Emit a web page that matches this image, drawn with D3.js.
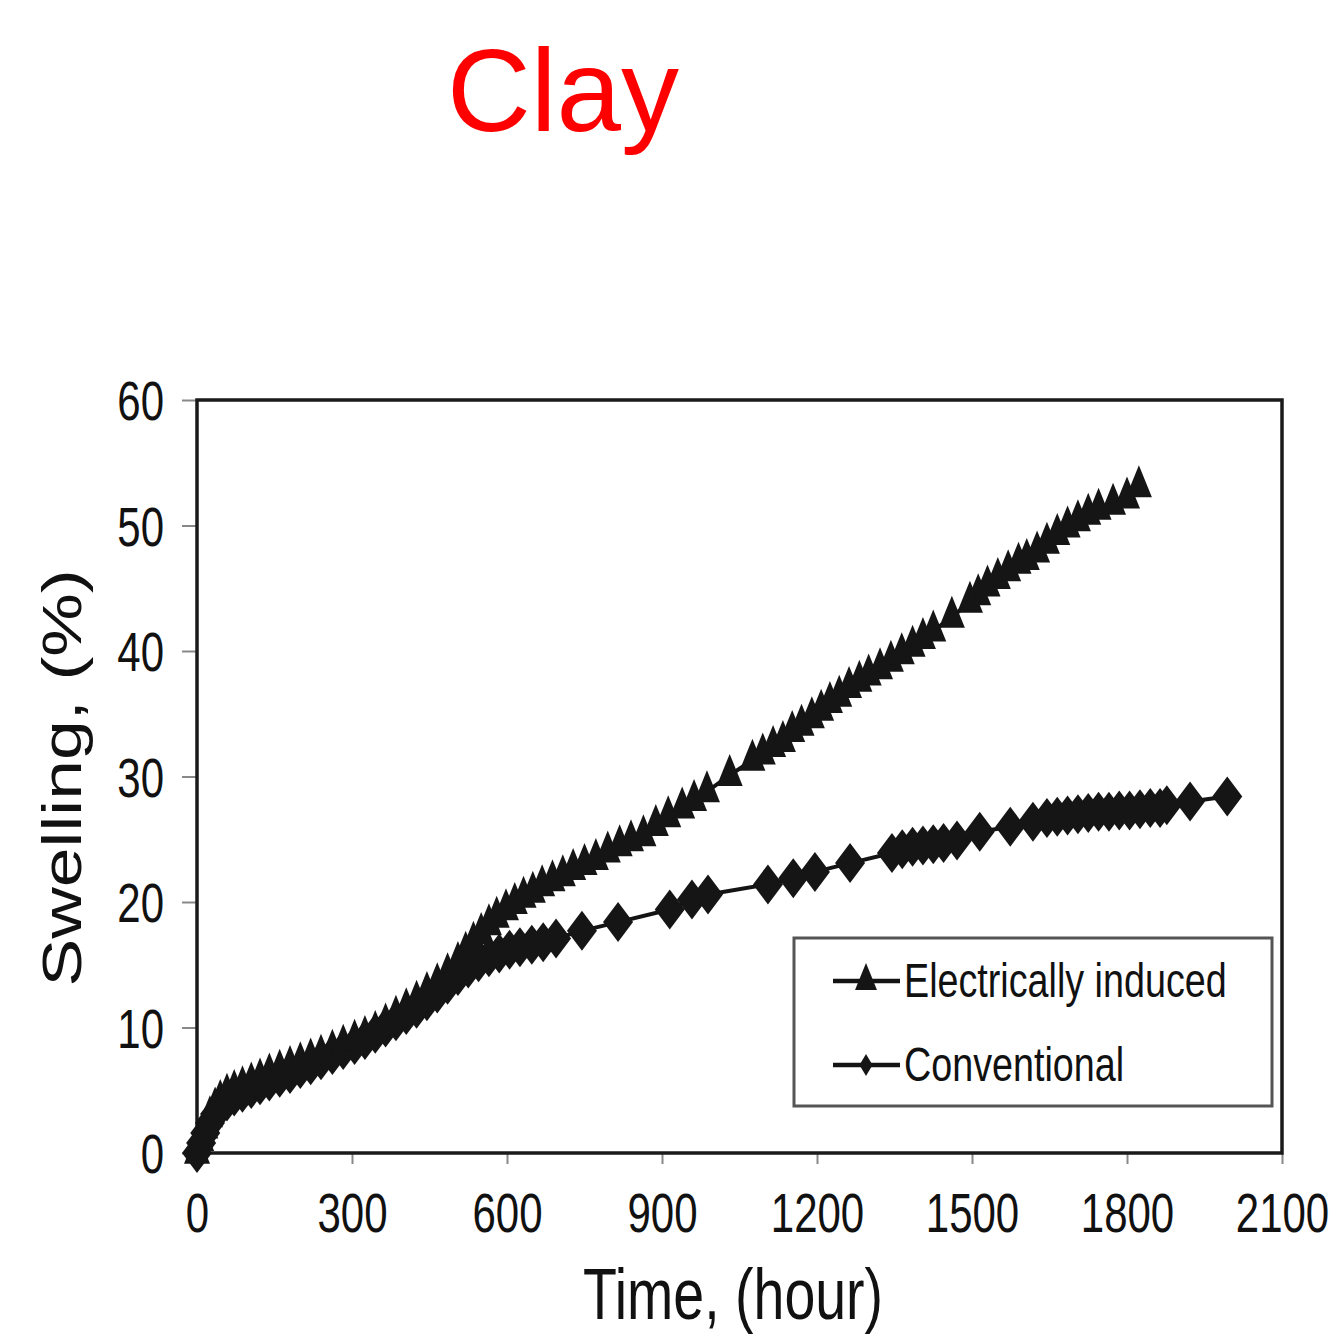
<!DOCTYPE html>
<html><head><meta charset="utf-8">
<script src="https://cdn.jsdelivr.net/npm/d3@7"></script>
<style>body{margin:0;background:#fff}svg{display:block}text{font-family:Arial,"Liberation Sans",sans-serif}</style>
</head><body>
<svg id="chart" width="1331" height="1335"></svg>
<script>
const titleText = "Clay";
const xLabel = "Time, (hour)";
const yLabel = "Swelling, (%)";
const xTicks = [0,300,600,900,1200,1500,1800,2100];
const yTicks = [0,10,20,30,40,50,60];
const seriesNames = ["Electrically induced","Conventional"];

const electricHours = [0,8,16,25,35,45,58,72,88,105,122,140,160,180,200,220,240,262,283,305,325,345,365,385,405,425,445,465,485,505,520,535,550,565,580,598,615,632,650,668,688,708,728,750,772,795,818,840,864,888,912,939,962,987,1031,1075,1095,1115,1134,1152,1170,1190,1208,1225,1243,1262,1282,1300,1322,1343,1364,1385,1405,1425,1461,1496,1512,1530,1550,1570,1590,1606,1626,1645,1665,1685,1705,1725,1745,1773,1800,1823];
const electricSwell = [0,1.0,2.0,2.9,3.6,4.2,4.7,5.0,5.3,5.6,5.9,6.3,6.6,6.9,7.2,7.5,7.8,8.2,8.6,9.0,9.3,9.7,10.3,10.9,11.5,12.1,12.8,13.5,14.3,15.2,16.0,16.8,17.5,18.2,18.8,19.4,19.9,20.4,20.8,21.3,21.7,22.1,22.6,23.0,23.4,24.0,24.5,24.9,25.3,26.1,26.8,27.5,28.1,28.8,30.1,31.3,31.8,32.4,32.8,33.6,34.1,34.7,35.3,35.9,36.4,37.1,37.6,38.1,38.6,39.2,39.8,40.4,41.0,41.6,42.7,43.9,44.5,45.2,45.8,46.4,47.0,47.3,47.9,48.6,49.3,49.9,50.4,50.9,51.3,51.7,52.2,53.1];

const convHours = [0,8,16,25,35,45,58,72,88,105,122,140,160,180,200,220,240,262,283,305,325,345,365,385,405,425,445,465,485,505,525,545,565,585,605,625,648,670,695,745,815,915,958,989,1105,1154,1196,1264,1345,1365,1385,1405,1425,1445,1471,1515,1574,1618,1645,1665,1685,1705,1725,1745,1765,1785,1805,1825,1845,1864,1877,1922,1994];
const convSwell = [0,0.8,1.6,2.4,3.1,3.6,4.1,4.5,4.8,5.1,5.4,5.7,6.0,6.3,6.7,7.0,7.4,7.8,8.2,8.6,9.0,9.5,10.0,10.5,11.0,11.5,12.1,12.7,13.4,14.1,14.7,15.2,15.6,15.9,16.2,16.4,16.6,16.8,17.1,17.7,18.4,19.4,20.2,20.6,21.4,21.9,22.4,23.1,23.9,24.2,24.4,24.5,24.6,24.7,24.9,25.6,26.0,26.4,26.7,26.8,26.9,27.0,27.1,27.2,27.2,27.3,27.3,27.4,27.5,27.5,27.7,28.0,28.4];

const svg = d3.select("#chart");
const L=197, R=1282, T=400, B=1153;
const x = d3.scaleLinear().domain([0,2100]).range([L,R]);
const y = d3.scaleLinear().domain([0,60]).range([B,T]);
const SY = 1.3;

// title
svg.append("text").attr("x",563).attr("y",131).attr("text-anchor","middle")
  .attr("font-size",116).attr("fill","#ff0000").text(titleText);

// axes
const xAxis = svg.append("g").attr("transform",`translate(0,${B})`)
  .call(d3.axisBottom(x).tickValues(xTicks).tickSize(11).tickSizeOuter(0).tickFormat(d3.format("d")));
xAxis.select(".domain").remove();
xAxis.selectAll("line").attr("stroke","#888").attr("stroke-width",2);
xAxis.selectAll("text").attr("y",null).attr("dy",null)
  .attr("transform",`translate(0,79) scale(1,${SY})`)
  .attr("font-size",42).attr("fill","#111").attr("font-family","Arial, 'Liberation Sans', sans-serif");

const yAxis = svg.append("g").attr("transform",`translate(${L},0)`)
  .call(d3.axisLeft(y).tickValues(yTicks).tickSize(15).tickSizeOuter(0).tickFormat(d3.format("d")));
yAxis.select(".domain").remove();
yAxis.selectAll("line").attr("stroke","#888").attr("stroke-width",2);
yAxis.selectAll("text").attr("x",null).attr("dy",null)
  .attr("transform",`translate(-33,19.5) scale(1,${SY})`)
  .attr("text-anchor","end")
  .attr("font-size",42).attr("fill","#111").attr("font-family","Arial, 'Liberation Sans', sans-serif");

// frame
svg.append("rect").attr("x",L).attr("y",T).attr("width",R-L).attr("height",B-T)
  .attr("fill","none").attr("stroke","#1a1a1a").attr("stroke-width",3.5);

// axis labels
svg.append("g").attr("transform",`translate(733,1319) scale(1,${SY})`)
  .append("text").attr("text-anchor","middle").attr("font-size",55.5).attr("fill","#111").text(xLabel);
svg.append("g").attr("transform",`translate(81,778) scale(1,${SY}) rotate(-90)`)
  .append("text").attr("text-anchor","middle").attr("font-size",55).attr("fill","#111").text(yLabel);

// marker shapes
function triPath(w,h){return `M0,${-h*2/3}L${w/2},${h/3}L${-w/2},${h/3}Z`;}
function diaPath(w,h){return `M0,${-h/2}L${w/2},0L0,${h/2}L${-w/2},0Z`;}

const electric = electricHours.map((h,i)=>[h,electricSwell[i]]);
const conv = convHours.map((h,i)=>[h,convSwell[i]]);
const line = d3.line().x(d=>x(d[0])).y(d=>y(d[1]));

const plot = svg.append("g");
plot.append("path").datum(conv).attr("d",line).attr("fill","none").attr("stroke","#141414").attr("stroke-width",4);
plot.append("path").datum(electric).attr("d",line).attr("fill","none").attr("stroke","#141414").attr("stroke-width",4);
plot.selectAll(".dia").data(conv).join("path").attr("class","dia")
  .attr("transform",d=>`translate(${x(d[0])},${y(d[1])})`).attr("d",diaPath(30,40)).attr("fill","#151515");
plot.selectAll(".tri").data(electric).join("path").attr("class","tri")
  .attr("transform",d=>`translate(${x(d[0])},${y(d[1])})`).attr("d",triPath(26,32)).attr("fill","#151515");

// legend
const lg = svg.append("g");
lg.append("rect").attr("x",794).attr("y",938).attr("width",478).attr("height",168)
  .attr("fill","#fff").attr("stroke","#555").attr("stroke-width",3);
const rows = [{name:seriesNames[0], yy:981, sym:triPath(22,27)},{name:seriesNames[1], yy:1065, sym:diaPath(13,22)}];
rows.forEach(r=>{
  lg.append("line").attr("x1",833).attr("x2",900).attr("y1",r.yy).attr("y2",r.yy).attr("stroke","#141414").attr("stroke-width",4.5);
  lg.append("path").attr("transform",`translate(866,${r.yy})`).attr("d",r.sym).attr("fill","#151515");
  lg.append("g").attr("transform",`translate(904,${r.yy+16}) scale(1,${SY})`)
    .append("text").attr("font-size",37.7).attr("fill","#111").text(r.name);
});
</script>
</body></html>
